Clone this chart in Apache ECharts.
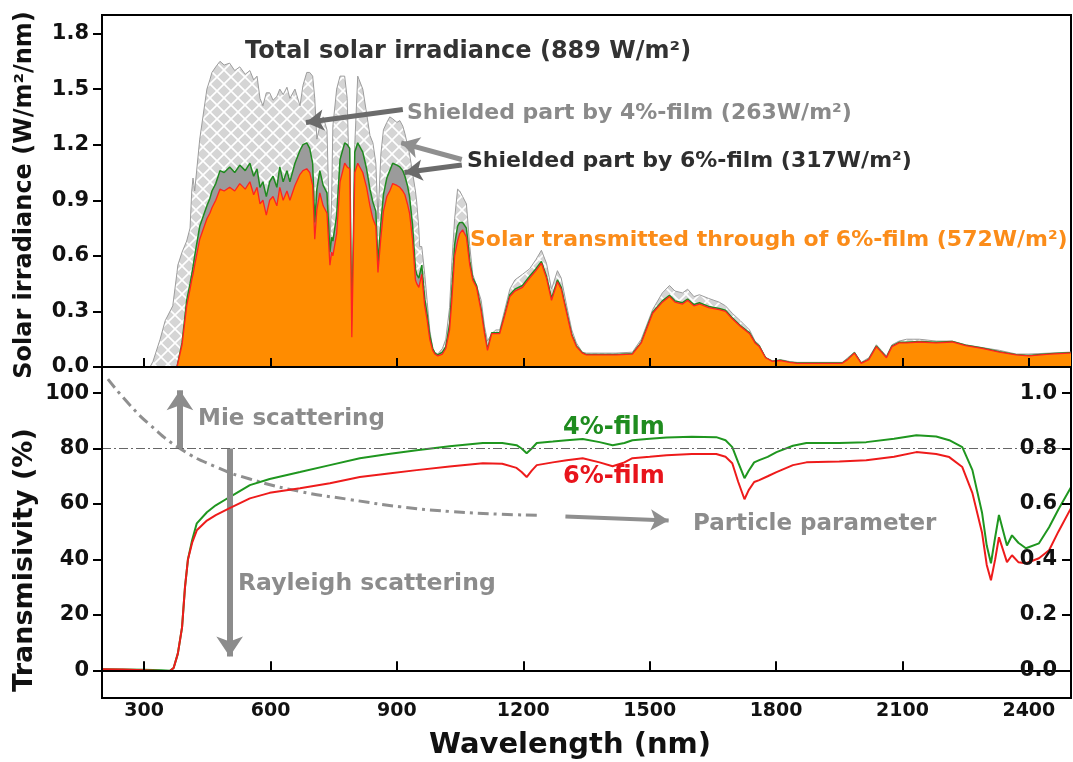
<!DOCTYPE html>
<html><head><meta charset="utf-8">
<script src="https://cdn.jsdelivr.net/npm/echarts@6/dist/echarts.min.js"></script>
<style>html,body{margin:0;padding:0;background:#fff}#c{width:1073px;height:762px}</style>
</head><body><div id="c"></div>
<script>
// ---------- data ----------
const wl = [
  200, 300, 314, 321, 338, 350, 368, 378, 380, 390,
  401, 409, 413, 416, 420, 432, 449, 456, 461, 470,
  480, 490, 503, 515, 527, 540, 551, 560, 568, 575,
  582, 590, 598, 606, 615, 622, 630, 639, 646, 658,
  670, 677, 686, 693, 700, 705, 710, 717, 725, 734,
  741, 745, 748, 757, 765, 776, 782, 788, 793, 800,
  807, 819, 828, 836, 843, 850, 855, 862, 868, 876,
  883, 890, 900, 907, 914, 919, 925, 930, 937, 944,
  947, 952, 954, 959, 966, 972, 978, 985, 990, 997,
  1001, 1008, 1016, 1025, 1030, 1037, 1044, 1049, 1056, 1065,
  1073, 1080, 1089, 1100, 1108, 1115, 1125, 1135, 1144, 1155,
  1168, 1180, 1198, 1215, 1230, 1243, 1255, 1267, 1281, 1290,
  1303, 1315, 1326, 1340, 1350, 1380, 1420, 1459, 1480, 1507,
  1530, 1547, 1560, 1578, 1590, 1605, 1618, 1640, 1665, 1680,
  1696, 1715, 1737, 1750, 1760, 1775, 1791, 1810, 1832, 1850,
  1900, 1957, 1970, 1986, 2002, 2020, 2038, 2050, 2062, 2075,
  2092, 2110, 2140, 2180, 2218, 2250, 2289, 2330, 2370, 2400,
  2450, 2495, 2500
];
const totalIrr = [
  0, 0, 0, 0.03, 0.15, 0.25, 0.33, 0.51, 0.55, 0.62,
  0.68, 0.75, 0.95, 1.02, 0.95, 1.23, 1.50, 1.55, 1.59, 1.62,
  1.65, 1.63, 1.64, 1.60, 1.62, 1.58, 1.60, 1.55, 1.57, 1.45,
  1.41, 1.48, 1.48, 1.44, 1.46, 1.50, 1.47, 1.51, 1.45, 1.50,
  1.41, 1.52, 1.59, 1.59, 1.57, 1.45, 1.23, 1.30, 1.35, 1.28,
  0.67, 0.90, 1.30, 1.50, 1.57, 1.57, 1.45, 0.90, 0.16, 1.20,
  1.57, 1.50, 1.37, 1.25, 1.21, 1.10, 0.80, 1.15, 1.28, 1.32,
  1.35, 1.34, 1.32, 1.33, 1.30, 1.26, 1.20, 1.15, 1.05, 0.95,
  0.89, 0.75, 0.65, 0.65, 0.50, 0.35, 0.20, 0.10, 0.08, 0.07,
  0.07, 0.10, 0.15, 0.32, 0.55, 0.80, 0.96, 0.95, 0.92, 0.88,
  0.65, 0.50, 0.44, 0.36, 0.22, 0.14, 0.18, 0.20, 0.20, 0.30,
  0.42, 0.47, 0.50, 0.53, 0.58, 0.63, 0.56, 0.42, 0.52, 0.48,
  0.33, 0.20, 0.13, 0.08, 0.075, 0.075, 0.075, 0.08, 0.15, 0.31,
  0.40, 0.44, 0.41, 0.40, 0.42, 0.38, 0.39, 0.37, 0.35, 0.33,
  0.29, 0.25, 0.20, 0.14, 0.12, 0.05, 0.03, 0.04, 0.03, 0.025,
  0.025, 0.025, 0.05, 0.08, 0.025, 0.05, 0.12, 0.09, 0.06, 0.12,
  0.14, 0.15, 0.15, 0.14, 0.14, 0.12, 0.105, 0.09, 0.07, 0.07,
  0.075, 0.08, 0.08
];
const film4Irr = [
  0, 0, 0, 0, 0, 0, 0, 0, 0.01, 0.13,
  0.36, 0.45, 0.50, 0.54, 0.60, 0.76, 0.87, 0.91, 0.95, 0.99,
  1.06, 1.05, 1.08, 1.05, 1.09, 1.06, 1.10, 1.03, 1.07, 0.97,
  1.00, 0.92, 1.00, 1.03, 0.97, 1.08, 1.00, 1.06, 1.00, 1.10,
  1.17, 1.20, 1.21, 1.18, 1.10, 0.78, 0.96, 1.06, 0.98, 0.94,
  0.62, 0.70, 0.68, 0.82, 1.12, 1.21, 1.20, 1.18, 0.18, 1.16,
  1.21, 1.16, 1.07, 0.96, 0.89, 0.84, 0.56, 0.78, 0.93, 1.02,
  1.06, 1.10, 1.09, 1.08, 1.06, 1.03, 0.98, 0.92, 0.77, 0.53,
  0.50, 0.48, 0.50, 0.55, 0.37, 0.28, 0.17, 0.10, 0.075, 0.065,
  0.065, 0.08, 0.11, 0.23, 0.40, 0.66, 0.76, 0.78, 0.78, 0.75,
  0.57, 0.48, 0.44, 0.31, 0.185, 0.095, 0.185, 0.185, 0.185, 0.275,
  0.39, 0.42, 0.44, 0.49, 0.53, 0.57, 0.49, 0.37, 0.47, 0.43,
  0.295, 0.175, 0.113, 0.077, 0.067, 0.067, 0.067, 0.072, 0.133, 0.295,
  0.357, 0.387, 0.357, 0.347, 0.367, 0.337, 0.347, 0.327, 0.316, 0.306,
  0.265, 0.224, 0.184, 0.133, 0.113, 0.051, 0.031, 0.036, 0.026, 0.021,
  0.021, 0.021, 0.041, 0.077, 0.021, 0.041, 0.113, 0.082, 0.051, 0.113,
  0.133, 0.133, 0.138, 0.133, 0.138, 0.118, 0.102, 0.082, 0.066, 0.062,
  0.071, 0.077, 0.077
];
const film6Irr = [
  0, 0, 0, 0, 0, 0, 0, 0, 0.01, 0.12,
  0.33, 0.42, 0.47, 0.50, 0.55, 0.69, 0.80, 0.83, 0.86, 0.90,
  0.96, 0.95, 0.97, 0.95, 0.99, 0.96, 1.00, 0.93, 0.97, 0.88,
  0.90, 0.82, 0.90, 0.92, 0.87, 0.97, 0.90, 0.95, 0.90, 0.98,
  1.04, 1.06, 1.07, 1.05, 0.98, 0.69, 0.85, 0.94, 0.87, 0.83,
  0.55, 0.62, 0.60, 0.72, 1.00, 1.10, 1.08, 1.07, 0.16, 1.05,
  1.10, 1.05, 0.97, 0.87, 0.80, 0.76, 0.51, 0.70, 0.84, 0.92,
  0.95, 0.99, 0.98, 0.97, 0.95, 0.93, 0.88, 0.83, 0.69, 0.47,
  0.45, 0.43, 0.45, 0.50, 0.33, 0.25, 0.15, 0.09, 0.07, 0.06,
  0.06, 0.07, 0.10, 0.20, 0.35, 0.60, 0.68, 0.72, 0.74, 0.70,
  0.55, 0.47, 0.43, 0.30, 0.18, 0.09, 0.18, 0.18, 0.18, 0.27,
  0.38, 0.41, 0.43, 0.48, 0.52, 0.56, 0.48, 0.36, 0.46, 0.42,
  0.29, 0.17, 0.11, 0.075, 0.065, 0.065, 0.065, 0.07, 0.13, 0.29,
  0.35, 0.38, 0.35, 0.34, 0.36, 0.33, 0.34, 0.32, 0.31, 0.30,
  0.26, 0.22, 0.18, 0.13, 0.11, 0.05, 0.03, 0.035, 0.025, 0.02,
  0.02, 0.02, 0.04, 0.075, 0.02, 0.04, 0.11, 0.08, 0.05, 0.11,
  0.13, 0.13, 0.135, 0.13, 0.135, 0.115, 0.10, 0.08, 0.065, 0.06,
  0.07, 0.075, 0.075
];

const wlT = [
  200, 250, 300, 340, 361, 370, 380, 390, 397, 404,
  414, 425, 449, 470, 503, 551, 598, 670, 741, 812,
  880, 947, 1025, 1104, 1150, 1184, 1196, 1208, 1220, 1232,
  1270, 1303, 1341, 1381, 1412, 1440, 1459, 1500, 1540, 1600,
  1658, 1680, 1696, 1710, 1725, 1735, 1748, 1760, 1780, 1801,
  1840, 1872, 1950, 2014, 2080, 2133, 2180, 2211, 2242, 2266,
  2289, 2300, 2310, 2320, 2329, 2348, 2360, 2375, 2393, 2424,
  2448, 2470, 2500
];
const trans4 = [
  0.4, 0.3, 0.2, 0, -0.2, 0.8, 6, 15.5, 30, 40,
  47, 53, 57, 59.5, 62.5, 66.8, 69, 71.5, 74, 76.5,
  78, 79.4, 80.8, 82, 82, 81.2, 80, 78.3, 80, 82,
  82.5, 83, 83.4, 82.3, 81.2, 82, 83, 83.5, 84, 84.2,
  84.1, 83, 80.5, 75, 69.3, 72, 75, 75.8, 77, 78.7,
  81, 82, 82, 82.3, 83.5, 84.8, 84.3, 83, 80.5, 72.2,
  56.7, 45, 38.6, 48, 56, 45, 48.7, 46, 44, 45.8,
  51.6, 58, 66
];
const trans6 = [
  0.4, 0.3, 0, -0.3, -0.3, 0.8, 6, 15.5, 30, 40,
  46, 50.5, 54, 56, 58.5, 62, 64, 65.7, 67.5, 69.7,
  71, 72.2, 73.5, 74.7, 74.5, 73, 71.5, 69.7, 72, 74,
  75, 75.8, 76.5, 75, 73.6, 75, 76.5, 77, 77.6, 78,
  78, 77, 74.7, 68, 61.7, 65, 67.9, 68.6, 70, 71.5,
  74, 75, 75.3, 75.8, 77, 78.7, 78, 76.9, 73.3, 63.9,
  49.5, 38, 32.5, 40, 48, 39, 41.5, 39, 38.6, 40.4,
  43.3, 50, 58.5
];
// particle parameter guide curve (right axis)
const ppWl  = [214, 266, 314, 385, 468, 551, 670, 788, 907, 1025, 1144, 1232];
const ppVal = [1.05, 0.957, 0.885, 0.80, 0.735, 0.69, 0.645, 0.616, 0.59, 0.573, 0.563, 0.559];

const xTicks = [300, 600, 900, 1200, 1500, 1800, 2100, 2400];
const irrTicks = [0, 0.3, 0.6, 0.9, 1.2, 1.5, 1.8];
const transTicks = [0, 20, 40, 60, 80, 100];
const ppTicks = [0, 0.2, 0.4, 0.6, 0.8, 1.0];

// ---------- helpers ----------
const pairs = (xs, ys) => xs.map((x, i) => [x, ys[i]]);
const FONT = '"DejaVu Sans", "Liberation Sans", Arial, sans-serif';

function makeHatch() {
  const c = document.createElement('canvas');
  c.width = 14; c.height = 14;
  const g = c.getContext('2d');
  g.fillStyle = '#d5d5d5'; g.fillRect(0, 0, 14, 14);
  g.strokeStyle = '#ffffff'; g.lineWidth = 1.6;
  g.beginPath();
  g.moveTo(-1, -1); g.lineTo(15, 15);
  g.moveTo(15, -1); g.lineTo(-1, 15);
  g.stroke();
  return c;
}

function txt(x, y, text, size, color, opts) {
  opts = opts || {};
  return {
    type: 'text', x: x, y: y, z: 100, rotation: opts.rotation || 0, silent: true,
    style: {
      text: text, x: 0, y: 0,
      font: 'bold ' + size + 'px ' + FONT,
      fill: color,
      textAlign: opts.align || 'left',
      textVerticalAlign: 'middle'
    }
  };
}

const axisLineStyle = { show: true, lineStyle: { color: '#000', width: 2 } };
const yLabelStyle = { fontSize: 21, fontWeight: 'bold', fontFamily: FONT, color: '#111' };
const xLabelStyle = { fontSize: 19, fontWeight: 'bold', fontFamily: FONT, color: '#111' };

function arrowPair(a, b, color, width) {
  return [{ coord: a, lineStyle: { color: color, width: width, type: 'solid' } }, { coord: b }];
}

const chart = echarts.init(document.getElementById('c'), null, { renderer: 'canvas' });
const option = {
  animation: false,
  backgroundColor: '#fff',
  grid: [
    { left: 102, right: 2, top: 15, height: 352, show: true, borderColor: '#000', borderWidth: 2, backgroundColor: 'transparent' },
    { left: 102, right: 2, top: 367, height: 331, show: true, borderColor: '#000', borderWidth: 2, backgroundColor: 'transparent' }
  ],
  xAxis: [
    {
      gridIndex: 0, type: 'value', min: 200, max: 2500, z: 10,
      axisLine: axisLineStyle,
      axisTick: { show: true, inside: true, length: 9, customValues: xTicks, lineStyle: { color: '#000', width: 2 } },
      axisLabel: { show: false },
      splitLine: { show: false }
    },
    {
      gridIndex: 1, type: 'value', min: 200, max: 2500, z: 10,
      axisLine: axisLineStyle,
      axisTick: { show: true, inside: true, length: 9, customValues: xTicks, lineStyle: { color: '#000', width: 2 } },
      axisLabel: Object.assign({ customValues: xTicks, margin: 4, formatter: v => String(v) }, xLabelStyle),
      splitLine: { show: false }
    }
  ],
  yAxis: [
    {
      gridIndex: 0, type: 'value', min: 0, max: 1.9, z: 10,
      axisLine: axisLineStyle,
      axisTick: { show: true, inside: false, length: 9, customValues: irrTicks, lineStyle: { color: '#000', width: 2 } },
      axisLabel: Object.assign({ customValues: irrTicks, margin: 13, formatter: v => Number(v).toFixed(1) }, yLabelStyle),
      splitLine: { show: false }
    },
    {
      gridIndex: 1, type: 'value', min: -10, max: 109.4, z: 10,
      axisLine: axisLineStyle,
      axisTick: { show: true, inside: false, length: 9, customValues: transTicks, lineStyle: { color: '#000', width: 2 } },
      axisLabel: Object.assign({ customValues: transTicks, margin: 13, formatter: v => String(v) }, yLabelStyle),
      splitLine: { show: false }
    },
    {
      gridIndex: 1, type: 'value', position: 'right', min: -0.1, max: 1.094, z: 10,
      axisLine: axisLineStyle,
      axisTick: { show: true, inside: true, length: 9, customValues: ppTicks, lineStyle: { color: '#000', width: 2 } },
      axisLabel: Object.assign({ customValues: ppTicks, inside: true, margin: 14, formatter: v => Number(v).toFixed(1) }, yLabelStyle),
      splitLine: { show: false }
    }
  ],
  series: [
    {
      name: 'Total', type: 'line', xAxisIndex: 0, yAxisIndex: 0, z: 2,
      data: pairs(wl, totalIrr), showSymbol: false, symbol: 'none',
      lineStyle: { color: '#9c9c9c', width: 1 },
      areaStyle: { color: { image: makeHatch(), repeat: 'repeat' }, opacity: 1 }
    },
    {
      name: '4%-film irr', type: 'line', xAxisIndex: 0, yAxisIndex: 0, z: 3,
      data: pairs(wl, film4Irr), showSymbol: false, symbol: 'none',
      lineStyle: { color: '#1f8a1f', width: 1.5 },
      areaStyle: { color: '#9b9b9b', opacity: 1 }
    },
    {
      name: '6%-film irr', type: 'line', xAxisIndex: 0, yAxisIndex: 0, z: 4,
      data: pairs(wl, film6Irr), showSymbol: false, symbol: 'none',
      lineStyle: { color: '#ff2222', width: 1.3 },
      areaStyle: { color: '#ff8c00', opacity: 1 },
      markLine: {
        silent: true, animation: false, symbol: ['none', 'arrow'], symbolSize: [16, 18],
        label: { show: false },
        data: [
          arrowPair([914, 1.39], [684, 1.32], '#6b6b6b', 5),
          arrowPair([1054, 1.12], [910, 1.21], '#8f8f8f', 5),
          arrowPair([1054, 1.09], [918, 1.05], '#6b6b6b', 5)
        ]
      }
    },
    {
      name: '4%-film', type: 'line', xAxisIndex: 1, yAxisIndex: 1, z: 4,
      data: pairs(wlT, trans4), showSymbol: false, symbol: 'none',
      lineStyle: { color: '#1f961f', width: 2 },
      markLine: {
        silent: true, animation: false, symbol: ['none', 'arrow'], symbolSize: [20, 20],
        label: { show: false },
        data: [
          arrowPair([385, 80], [385, 101], '#8c8c8c', 6),
          arrowPair([503, 80], [503, 5], '#8c8c8c', 6)
        ]
      }
    },
    {
      name: '6%-film', type: 'line', xAxisIndex: 1, yAxisIndex: 1, z: 5,
      data: pairs(wlT, trans6), showSymbol: false, symbol: 'none',
      lineStyle: { color: '#ee1b1b', width: 2 },
      markLine: {
        silent: true, animation: false, symbol: ['none', 'none'],
        label: { show: false },
        lineStyle: { color: '#666', width: 1.2, type: [9, 3, 2, 3] },
        data: [{ yAxis: 80 }]
      }
    },
    {
      name: 'Particle parameter', type: 'line', xAxisIndex: 1, yAxisIndex: 2, z: 3,
      data: pairs(ppWl, ppVal), showSymbol: false, symbol: 'none', smooth: true,
      lineStyle: { color: '#8f8f8f', width: 3, type: [11, 5, 3, 5] },
      markLine: {
        silent: true, animation: false, symbol: ['none', 'arrow'], symbolSize: [16, 18],
        label: { show: false },
        data: [arrowPair([1300, 0.555], [1545, 0.54], '#8f8f8f', 4)]
      }
    }
  ],
  graphic: [
    txt(245, 52, 'Total solar irradiance (889 W/m²)', 24, '#333333'),
    txt(407, 113, 'Shielded part by 4%-film (263W/m²)', 22, '#8a8a8a'),
    txt(467, 161, 'Shielded part by 6%-film (317W/m²)', 22, '#2e2e2e'),
    txt(470, 240, 'Solar transmitted through of 6%-film (572W/m²)', 22, '#fb8c19'),
    txt(198, 419, 'Mie scattering', 23, '#8c8c8c'),
    txt(563, 428, '4%-film', 24, '#1f8c1f'),
    txt(563, 477, '6%-film', 24, '#e8141c'),
    txt(693, 524, 'Particle parameter', 23, '#8c8c8c'),
    txt(238, 584, 'Rayleigh scattering', 23.5, '#8c8c8c'),
    txt(570, 745, 'Wavelength (nm)', 29, '#111', { align: 'center' }),
    txt(25, 195, 'Solar irradiance (W/m²/nm)', 24, '#111', { align: 'center', rotation: Math.PI / 2 }),
    txt(25, 560, 'Transmisivity (%)', 27, '#111', { align: 'center', rotation: Math.PI / 2 })
  ]
};
chart.setOption(option);
</script>
</body></html>
